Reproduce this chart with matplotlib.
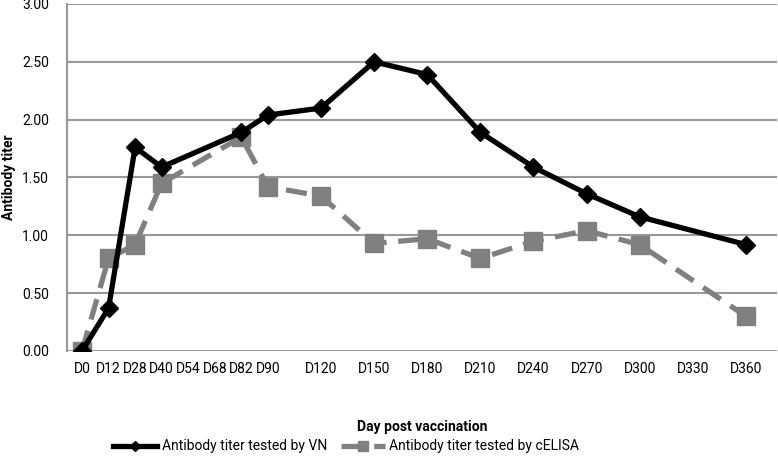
import numpy as np
import matplotlib
matplotlib.use('Agg')
import matplotlib.pyplot as plt

plt.rcParams['font.family'] = ['Roboto', 'DejaVu Sans']

# category labels (blank slots keep the Excel spacing)
days = ['D0', 'D12', 'D28', 'D40', 'D54', 'D68', 'D82', 'D90', '', 'D120', '', 'D150', '',
        'D180', '', 'D210', '', 'D240', '', 'D270', '', 'D300', '', 'D330', '', 'D360']

# measured days and values
vn_days = ['D0', 'D12', 'D28', 'D40', 'D82', 'D90', 'D120', 'D150', 'D180', 'D210', 'D240', 'D270', 'D300', 'D360']
vn_titer = [0.00, 0.37, 1.76, 1.59, 1.89, 2.04, 2.10, 2.50, 2.39, 1.89, 1.59, 1.36, 1.16, 0.92]
elisa_days = ['D0', 'D12', 'D28', 'D40', 'D82', 'D90', 'D120', 'D150', 'D180', 'D210', 'D240', 'D270', 'D300', 'D360']
elisa_titer = [0.00, 0.80, 0.92, 1.45, 1.85, 1.42, 1.34, 0.93, 0.97, 0.80, 0.95, 1.04, 0.92, 0.30]

pos = {d: i for i, d in enumerate(days) if d}
vn_x = [pos[d] for d in vn_days]
el_x = [pos[d] for d in elisa_days]

fig = plt.figure(figsize=(7.78, 4.59), dpi=100)
ax = fig.add_axes([0.0861, 0.2353, 0.9126, 0.756])

ax.plot(el_x, elisa_titer, color='#808080', lw=3.8, dashes=(4, 2.2), marker='s', ms=13,
        mfc='#808080', mec='#808080', label='Antibody titer tested by cELISA', zorder=3)
ax.plot(vn_x, vn_titer, color='black', lw=3.8, marker='D', ms=9,
        label='Antibody titer tested by VN', zorder=4)

ax.set_ylim(0, 3)
ax.set_yticks(np.arange(0, 3.01, 0.5))
ax.set_yticklabels([f'{v:.2f}' for v in np.arange(0, 3.01, 0.5)], fontsize=10)
ax.set_xlim(-0.565, 26.17)
ax.set_xticks(range(len(days)))
ax.set_xticklabels(days, fontsize=10)
ax.tick_params(length=0, pad=8)
ax.tick_params(axis='y', pad=13)
ax.grid(axis='y', color='#999999', lw=1.5)
ax.set_axisbelow(True)
for s in ['top', 'right', 'bottom']:
    ax.spines[s].set_visible(False)
ax.spines['left'].set_color('#999999')
ax.spines['left'].set_linewidth(1.5)

ax.set_ylabel('Antibody titer', fontsize=10, fontweight='bold')
ax.yaxis.set_label_coords(-0.072, 0.5)
ax.set_xlabel('Day post vaccination', fontsize=10, fontweight='bold')
ax.xaxis.set_label_coords(0.5, -0.2)

h, l = ax.get_legend_handles_labels()
fig.legend(h[::-1], l[::-1], loc='lower left', bbox_to_anchor=(0.138, 0.0), ncol=2,
           frameon=False, fontsize=10, handlelength=3.2, handletextpad=0.3,
           columnspacing=1.0, markerscale=0.6, borderaxespad=0, borderpad=0.4)

fig.savefig('out.png', dpi=100)
